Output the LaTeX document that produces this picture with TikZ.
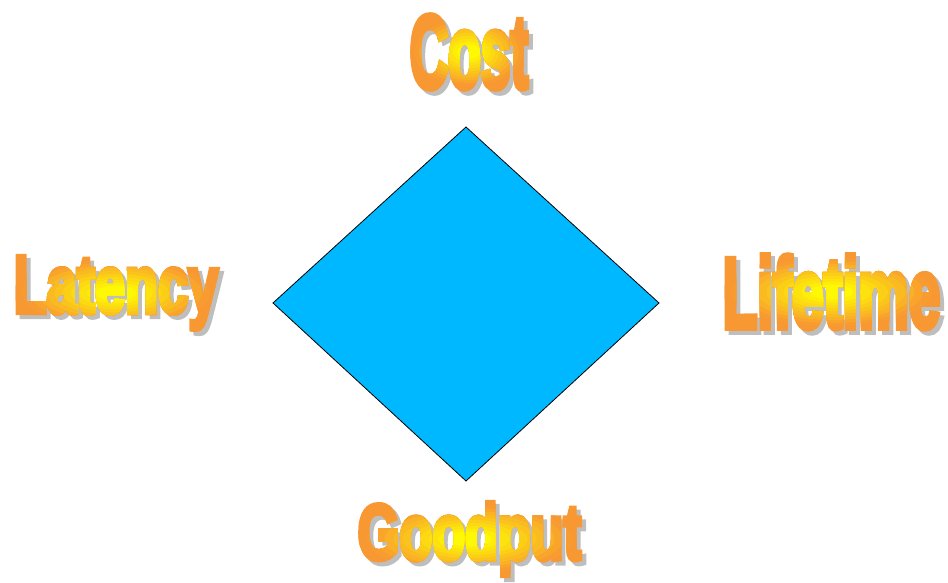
\documentclass[tikz,border=0pt]{standalone}
\usepackage{fontspec}
\setmainfont{Liberation Sans}
\newfontfamily\wafont{Liberation Sans}[BoldFeatures={FakeBold=6}]
\usepackage{graphicx}
\definecolor{skyfill}{HTML}{00B8FF}
\definecolor{wyellow}{HTML}{FFFF00}
\definecolor{worange}{HTML}{F89832}
\definecolor{wshadow}{HTML}{BEBEBE}
\newcommand\wordart[3]{\resizebox*{#1}{#2}{\wafont\bfseries #3}}
% #1 name, #2 cx, #3 cy, #4 width, #5 height, #6 text
\newcommand\artword[6]{%
  \node[shadowtext] (#1shadow) at ({#2+4},{#3-4}) {\wordart{#4pt}{#5pt}{#6}};
  \foreach \t in {1.5,1.0,0.92,...,0.15}{%
    \pgfmathtruncatemacro\p{max(0,min(100,100*(1-(\t-0.15)/0.8)))}%
    \begin{scope}
      \clip (#2,#3) ellipse ({#4/2*\t} and {#5/2*\t});
      \node[word, text=wyellow!\p!worange] at (#2,#3) {\wordart{#4pt}{#5pt}{#6}};
    \end{scope}}%
  \coordinate (#1) at (#2,#3);
}

\begin{document}
\begin{tikzpicture}[x=1pt,y=1pt,
  word/.style={inner sep=0pt, outer sep=0pt},
  shadowtext/.style={word, text=wshadow}]
\useasboundingbox (0,0) rectangle (948,583);

% diamond
\coordinate (dtop) at (466,456);
\coordinate (dright) at (659,280);
\coordinate (dbottom) at (466,102);
\coordinate (dleft) at (273,280);
\draw[fill=skyfill, line width=0.8pt, line join=miter] (dtop) -- (dright) -- (dbottom) -- (dleft) -- cycle;

\artword{cost}{469}{531}{118.7}{73.4}{Cost}
\artword{latency}{116}{290}{204.7}{73.4}{Latency}
\artword{lifetime}{831.5}{291}{217.7}{73.4}{Lifetime}
\artword{goodput}{469.5}{44}{223.7}{73.4}{Goodput}
\end{tikzpicture}
\end{document}
